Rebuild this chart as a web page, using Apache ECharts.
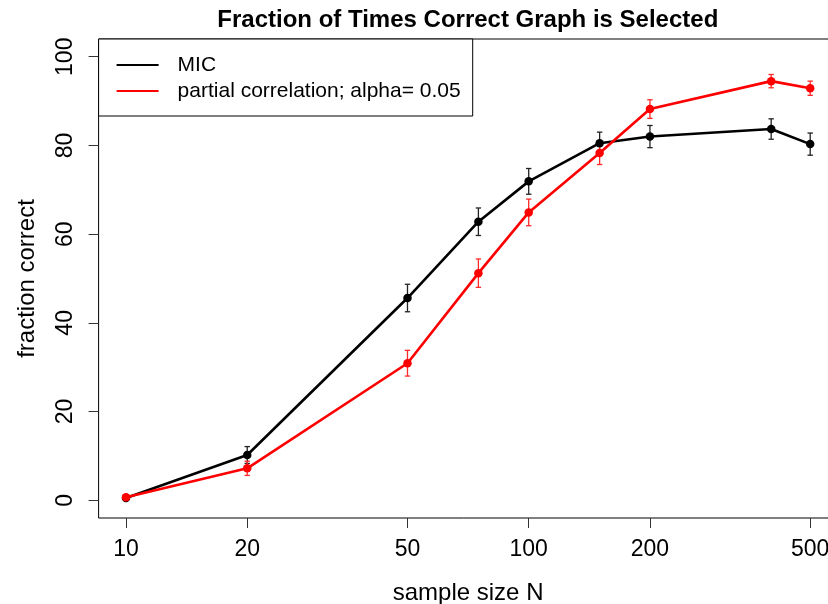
<!DOCTYPE html>
<html>
<head>
<meta charset="utf-8">
<script src="https://cdn.jsdelivr.net/npm/echarts@6/dist/echarts.min.js"></script>
<style>
  html, body { margin: 0; padding: 0; background: #fff; }
  #chart { width: 828px; height: 604px; }
</style>
</head>
<body>
<div id="chart"></div>
<script>
// sample sizes (log x axis)
const sampleSizes = [10, 20, 50, 75, 100, 150, 200, 400, 500]
const xTicks = [10, 20, 50, 100, 200, 500]
const yTicks = [0, 20, 40, 60, 80, 100]

// percent correct
const micValues = [0.5, 10.2, 45.6, 62.8, 71.9, 80.5, 82.0, 83.7, 80.3]
const micErrors = [0.5, 1.9, 3.1, 3.1, 2.9, 2.5, 2.5, 2.3, 2.5]
const pcValues = [0.7, 7.2, 30.9, 51.2, 64.9, 78.3, 88.2, 94.5, 92.9]
const pcErrors = [0.5, 1.6, 2.9, 3.2, 3.0, 2.6, 2.1, 1.5, 1.6]

const font = 'Liberation Sans, Arial, Helvetica, sans-serif'

function pairs(values) {
  return sampleSizes.map((n, i) => [n, values[i]])
}
function errTriples(values, errs) {
  return sampleSizes.map((n, i) => [n, values[i], errs[i]])
}

// error bars drawn as custom series
function errorBarSeries(name, values, errs, color) {
  return {
    name: name,
    type: 'custom',
    silent: true,
    z: 1,
    data: errTriples(values, errs),
    renderItem: function (params, api) {
      const x = api.value(0)
      const y = api.value(1)
      const e = api.value(2)
      const lo = api.coord([x, y - e])
      const hi = api.coord([x, y + e])
      const w = 2.7
      const style = { stroke: color, lineWidth: 1.3 }
      return {
        type: 'group',
        children: [
          { type: 'line', shape: { x1: lo[0], y1: lo[1], x2: hi[0], y2: hi[1] }, style: style },
          { type: 'line', shape: { x1: lo[0] - w, y1: lo[1], x2: lo[0] + w, y2: lo[1] }, style: style },
          { type: 'line', shape: { x1: hi[0] - w, y1: hi[1], x2: hi[0] + w, y2: hi[1] }, style: style }
        ]
      }
    }
  }
}

const chart = echarts.init(document.getElementById('chart'))

const option = {
  animation: false,
  backgroundColor: '#fff',
  textStyle: { fontFamily: font },
  title: {
    text: 'Fraction of Times Correct Graph is Selected',
    left: 467.8,
    textAlign: 'center',
    top: 8,
    padding: 0,
    textStyle: { fontFamily: font, fontSize: 24, fontWeight: 'bold', color: '#000' }
  },
  legend: {
    left: 98.6,
    top: 39,
    orient: 'vertical',
    padding: [15, 12, 14, 18],
    itemGap: 4,
    itemWidth: 42,
    itemHeight: 2,
    borderColor: '#000',
    borderWidth: 1,
    borderRadius: 0,
    backgroundColor: '#fff',
    selectedMode: false,
    textStyle: { fontFamily: font, fontSize: 21, color: '#000', lineHeight: 22, padding: [0, 0, 0, 14] },
    data: [
      { name: 'MIC', icon: 'rect', itemStyle: { color: '#000' } },
      { name: 'partial correlation; alpha= 0.05', icon: 'rect', itemStyle: { color: '#ff0000' } }
    ]
  },
  grid: {
    show: true,
    outerBoundsMode: 'none',
    left: 98.6,
    width: 739,
    top: 39,
    bottom: 86,
    borderColor: '#000',
    borderWidth: 1,
    backgroundColor: 'transparent'
  },
  xAxis: {
    type: 'log',
    logBase: 10,
    min: 8.55,
    max: 584.8,
    name: 'sample size N',
    nameLocation: 'middle',
    nameGap: 63,
    nameTextStyle: { fontFamily: font, fontSize: 24, color: '#000' },
    axisLine: { show: false, onZero: false },
    splitLine: { show: false },
    minorTick: { show: false },
    axisTick: { show: true, length: 10, lineStyle: { color: '#333', width: 1 }, customValues: xTicks },
    axisLabel: {
      margin: 20,
      fontFamily: font,
      fontSize: 23,
      color: '#000',
      customValues: xTicks,
      formatter: v => String(Math.round(v))
    }
  },
  yAxis: {
    type: 'value',
    min: -4,
    max: 104,
    name: 'fraction correct',
    nameLocation: 'middle',
    nameGap: 59,
    nameTextStyle: { fontFamily: font, fontSize: 24, color: '#000' },
    axisLine: { show: false, onZero: false },
    splitLine: { show: false },
    axisTick: { show: true, length: 10, lineStyle: { color: '#333', width: 1 }, customValues: yTicks },
    axisLabel: {
      rotate: 90,
      margin: 21,
      fontFamily: font,
      fontSize: 23,
      color: '#000',
      customValues: yTicks
    }
  },
  series: [
    errorBarSeries('micErr', micValues, micErrors, '#222'),
    errorBarSeries('pcErr', pcValues, pcErrors, '#ff2a2a'),
    {
      name: 'MIC',
      type: 'line',
      data: pairs(micValues),
      symbol: 'circle',
      symbolSize: 8.5,
      z: 3,
      lineStyle: { color: '#000', width: 2.6 },
      itemStyle: { color: '#000' }
    },
    {
      name: 'partial correlation; alpha= 0.05',
      type: 'line',
      data: pairs(pcValues),
      symbol: 'circle',
      symbolSize: 8.5,
      z: 3,
      lineStyle: { color: '#ff0000', width: 2.6 },
      itemStyle: { color: '#ff0000' }
    }
  ]
}

chart.setOption(option)
</script>
</body>
</html>
